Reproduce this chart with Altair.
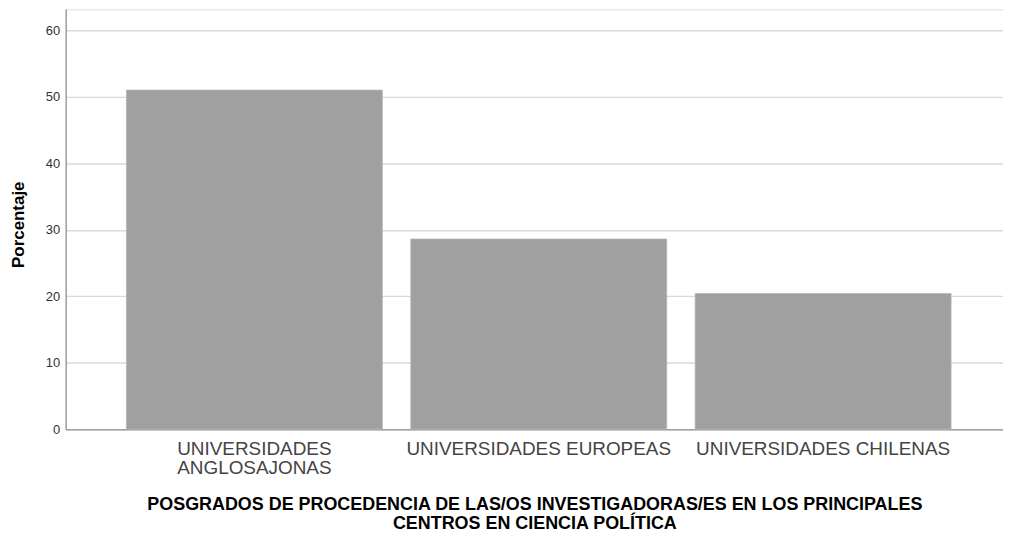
import altair as alt
import pandas as pd

categories = ["UNIVERSIDADES|ANGLOSAJONAS", "UNIVERSIDADES EUROPEAS", "UNIVERSIDADES CHILENAS"]
values = [51.0, 28.6, 20.4]
y_ticks = [0, 10, 20, 30, 40, 50, 60]
x_title = ["POSGRADOS DE PROCEDENCIA DE LAS/OS INVESTIGADORAS/ES EN LOS PRINCIPALES",
           "CENTROS EN CIENCIA POLÍTICA"]
y_title = "Porcentaje"

df = pd.DataFrame({"cat": categories, "val": values})

FONT = "Liberation Sans"

chart = alt.Chart(df).mark_bar(color="#a0a0a0", stroke="#b4b4b4", strokeWidth=0.8).encode(
    x=alt.X("cat:N", sort=categories,
            scale=alt.Scale(paddingInner=0.1, paddingOuter=0.198, align=0.539),
            axis=alt.Axis(title=x_title, labelAngle=0,
                          labelExpr="split(datum.label, '|')",
                          labelFont=FONT, labelFontSize=19, labelColor="#444444",
                          labelLineHeight=20, labelPadding=10, labelBaseline="top",
                          labelLimit=0,
                          ticks=False, domain=True, domainColor="#a0a0a0", domainWidth=1.5,
                          titleFont=FONT, titleFontSize=18, titleFontWeight="bold",
                          titleColor="#000000", titlePadding=18, titleLineHeight=19)),
    y=alt.Y("val:Q", scale=alt.Scale(domain=[0, 63.15], nice=False),
            axis=alt.Axis(title=y_title, values=y_ticks, ticks=False,
                          labelFont=FONT, labelFontSize=13, labelColor="#333333",
                          labelPadding=6,
                          grid=True, gridColor="#d9d9d9", gridWidth=1.5,
                          domain=True, domainColor="#a0a0a0", domainWidth=1.5,
                          titleFont=FONT, titleFontSize=17, titleFontWeight="bold",
                          titleColor="#000000", titlePadding=18, titleY=216)),
).properties(
    width=942, height=422,
    autosize=alt.AutoSizeParams(type="none"),
    padding={"left": 58, "top": 0, "right": 0, "bottom": 106},
).configure_view(stroke=None).configure(background="white")

chart.save("out.html", embed_options={"renderer": "svg", "actions": False})
